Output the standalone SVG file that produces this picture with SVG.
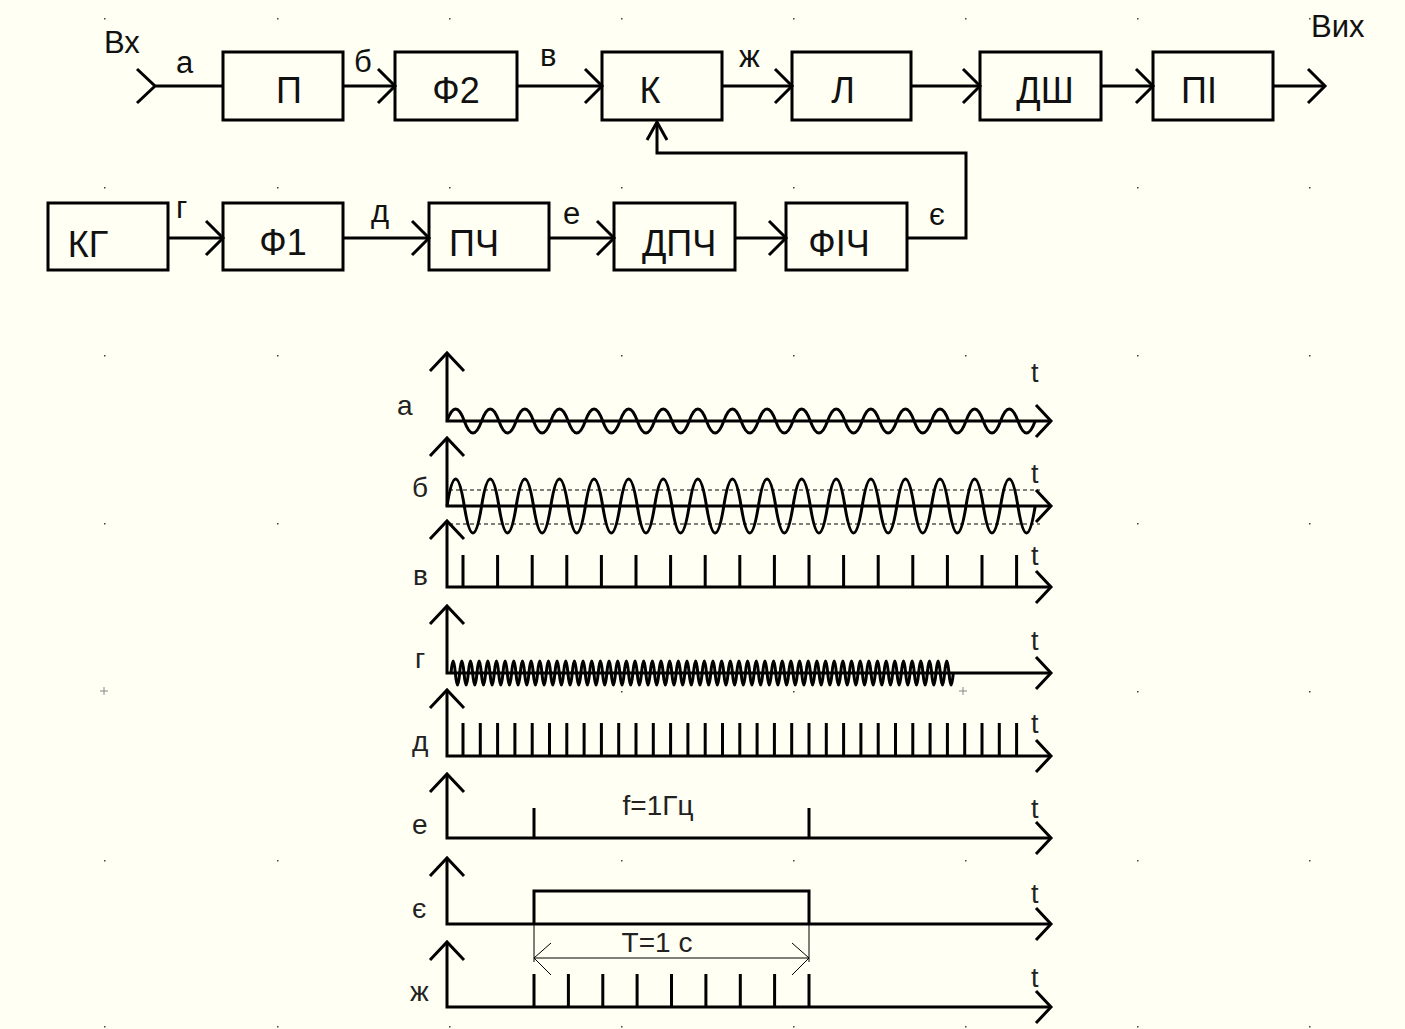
<svg xmlns="http://www.w3.org/2000/svg" width="1405" height="1029" viewBox="0 0 1405 1029">
<style>
text{font-family:"Liberation Sans",Arial,sans-serif;fill:#111}
.box{fill:none;stroke:#000;stroke-width:3}
.bt{font-size:36px;text-anchor:middle}
.lb{font-size:31px}
.ln{fill:none;stroke:#000;stroke-width:3;stroke-linejoin:miter}
.th{fill:none;stroke:#000;stroke-width:1}
.wl{font-size:28px;fill:#222}
.tl{font-size:27px;fill:#222}
.dot{fill:#444}
</style>
<defs>
<path id="ah" d="M-17,-17 L0,0 L-17,17" fill="none" stroke="#000" stroke-width="3"/>
<path id="au" d="M-17,18 L0,0 L17,18" fill="none" stroke="#000" stroke-width="3"/>
<path id="ax" d="M-15,-16 L0,0 L-15,16" fill="none" stroke="#000" stroke-width="3"/>
</defs>
<rect width="1405" height="1029" fill="#FFFFF3"/>
<g id="grid">
<rect class="dot" x="104" y="18" width="1.5" height="1.5"/><rect class="dot" x="277" y="18" width="1.5" height="1.5"/><rect class="dot" x="449" y="18" width="1.5" height="1.5"/><rect class="dot" x="621" y="18" width="1.5" height="1.5"/><rect class="dot" x="793" y="18" width="1.5" height="1.5"/><rect class="dot" x="965" y="18" width="1.5" height="1.5"/><rect class="dot" x="1137" y="18" width="1.5" height="1.5"/><rect class="dot" x="1309" y="18" width="1.5" height="1.5"/>
<rect class="dot" x="104" y="187" width="1.5" height="1.5"/><rect class="dot" x="277" y="187" width="1.5" height="1.5"/><rect class="dot" x="449" y="187" width="1.5" height="1.5"/><rect class="dot" x="621" y="187" width="1.5" height="1.5"/><rect class="dot" x="793" y="187" width="1.5" height="1.5"/><rect class="dot" x="1137" y="187" width="1.5" height="1.5"/><rect class="dot" x="1309" y="187" width="1.5" height="1.5"/>
<rect class="dot" x="104" y="355" width="1.5" height="1.5"/><rect class="dot" x="277" y="355" width="1.5" height="1.5"/><rect class="dot" x="621" y="355" width="1.5" height="1.5"/><rect class="dot" x="793" y="355" width="1.5" height="1.5"/><rect class="dot" x="965" y="355" width="1.5" height="1.5"/><rect class="dot" x="1137" y="355" width="1.5" height="1.5"/><rect class="dot" x="1309" y="355" width="1.5" height="1.5"/>
<rect class="dot" x="104" y="523" width="1.5" height="1.5"/><rect class="dot" x="277" y="523" width="1.5" height="1.5"/><rect class="dot" x="1137" y="523" width="1.5" height="1.5"/><rect class="dot" x="1309" y="523" width="1.5" height="1.5"/>
<path d="M100,691h8M104,687v8M959,691h8M963,687v8" stroke="#888" stroke-width="1"/>
<rect class="dot" x="621" y="691" width="1.5" height="1.5"/><rect class="dot" x="793" y="691" width="1.5" height="1.5"/><rect class="dot" x="1137" y="691" width="1.5" height="1.5"/><rect class="dot" x="1309" y="691" width="1.5" height="1.5"/>
<rect class="dot" x="104" y="860" width="1.5" height="1.5"/><rect class="dot" x="277" y="860" width="1.5" height="1.5"/><rect class="dot" x="621" y="860" width="1.5" height="1.5"/><rect class="dot" x="793" y="860" width="1.5" height="1.5"/><rect class="dot" x="965" y="860" width="1.5" height="1.5"/><rect class="dot" x="1137" y="860" width="1.5" height="1.5"/><rect class="dot" x="1309" y="860" width="1.5" height="1.5"/>
<rect class="dot" x="104" y="1026" width="1.5" height="1.5"/><rect class="dot" x="277" y="1026" width="1.5" height="1.5"/><rect class="dot" x="449" y="1026" width="1.5" height="1.5"/><rect class="dot" x="621" y="1026" width="1.5" height="1.5"/><rect class="dot" x="793" y="1026" width="1.5" height="1.5"/><rect class="dot" x="965" y="1026" width="1.5" height="1.5"/><rect class="dot" x="1137" y="1026" width="1.5" height="1.5"/><rect class="dot" x="1309" y="1026" width="1.5" height="1.5"/>
</g>

<g id="node-P"><rect class="box" x="223" y="52" width="120" height="68"/><text class="bt" x="289" y="103">П</text></g>
<g id="node-F2"><rect class="box" x="395" y="52" width="122" height="68"/><text class="bt" x="456" y="103">Ф2</text></g>
<g id="node-K"><rect class="box" x="602" y="52" width="120" height="68"/><text class="bt" x="650" y="103">К</text></g>
<g id="node-L"><rect class="box" x="792" y="52" width="119" height="68"/><text class="bt" x="843" y="103">Л</text></g>
<g id="node-DSh"><rect class="box" x="980" y="52" width="121" height="68"/><text class="bt" x="1045" y="103">ДШ</text></g>
<g id="node-PI"><rect class="box" x="1153" y="52" width="120" height="68"/><text class="bt" x="1199" y="103">ПІ</text></g>

<g id="node-KG"><rect class="box" x="48" y="203" width="120" height="67"/><text class="bt" x="88" y="257">КГ</text></g>
<g id="node-F1"><rect class="box" x="223" y="203" width="120" height="67"/><text class="bt" x="283" y="255">Ф1</text></g>
<g id="node-PCh"><rect class="box" x="429" y="203" width="120" height="67"/><text class="bt" x="474" y="256">ПЧ</text></g>
<g id="node-DPCh"><rect class="box" x="614" y="203" width="121" height="67"/><text class="bt" x="679" y="256">ДПЧ</text></g>
<g id="node-FICh"><rect class="box" x="786" y="203" width="121" height="67"/><text class="bt" x="839" y="256">ФІЧ</text></g>

<g id="connectors">
<path class="ln" d="M137,69 L155,86 L137,103 M155,86 H223"/>
<path class="ln" d="M343,86 H395"/><use href="#ah" x="395" y="86"/>
<path class="ln" d="M517,86 H602"/><use href="#ah" x="602" y="86"/>
<path class="ln" d="M722,86 H792"/><use href="#ah" x="792" y="86"/>
<path class="ln" d="M911,86 H980"/><use href="#ah" x="980" y="86"/>
<path class="ln" d="M1101,86 H1153"/><use href="#ah" x="1153" y="86"/>
<path class="ln" d="M1273,86 H1325"/><use href="#ah" x="1325" y="86"/>
<path class="ln" d="M168,238 H223"/><use href="#ah" x="223" y="238"/>
<path class="ln" d="M343,238 H429"/><use href="#ah" x="429" y="238"/>
<path class="ln" d="M549,238 H614"/><use href="#ah" x="614" y="238"/>
<path class="ln" d="M735,238 H786"/><use href="#ah" x="786" y="238"/>
<path class="ln" d="M907,238 H966 V153 H657 V122"/>
<path class="ln" d="M647,140 L657,122 L667,140"/>
</g>
<g id="labels">
<text class="lb" x="104" y="53" font-size="32">Вх</text>
<text class="lb" x="1311" y="37" font-size="32">Вих</text>
<text class="lb" x="176" y="73">а</text>
<text class="lb" x="354" y="72">б</text>
<text class="lb" x="540" y="66">в</text>
<text class="lb" x="739" y="67">ж</text>
<text class="lb" x="176" y="218">г</text>
<text class="lb" x="371" y="222">д</text>
<text class="lb" x="563" y="224">е</text>
<text class="lb" x="929" y="225">є</text>
</g>

<g id="waveforms">
<g id="axes">
<path class="ln" d="M447,353 V421 H1051 M447,438 V506 H1051 M447,521 V587 H1051 M447,606 V673 H1051 M447,690 V756 H1051 M447,774 V838 H1051 M447,858 V924 H1051 M447,942 V1007 H1051"/>
<use href="#au" x="447" y="353"/><use href="#au" x="447" y="438"/><use href="#au" x="447" y="521"/><use href="#au" x="447" y="606"/><use href="#au" x="447" y="690"/><use href="#au" x="447" y="774"/><use href="#au" x="447" y="858"/><use href="#au" x="447" y="942"/>
<use href="#ax" x="1051" y="421"/><use href="#ax" x="1051" y="506"/><use href="#ax" x="1051" y="587"/><use href="#ax" x="1051" y="673"/><use href="#ax" x="1051" y="756"/><use href="#ax" x="1051" y="838"/><use href="#ax" x="1051" y="924"/><use href="#ax" x="1051" y="1007"/>
</g>
<g id="wave-a"><path class="ln" d="M447,421 q8.65,-24 17.3,0 q8.65,24 17.3,0 q8.65,-24 17.3,0 q8.65,24 17.3,0 q8.65,-24 17.3,0 q8.65,24 17.3,0 q8.65,-24 17.3,0 q8.65,24 17.3,0 q8.65,-24 17.3,0 q8.65,24 17.3,0 q8.65,-24 17.3,0 q8.65,24 17.3,0 q8.65,-24 17.3,0 q8.65,24 17.3,0 q8.65,-24 17.3,0 q8.65,24 17.3,0 q8.65,-24 17.3,0 q8.65,24 17.3,0 q8.65,-24 17.3,0 q8.65,24 17.3,0 q8.65,-24 17.3,0 q8.65,24 17.3,0 q8.65,-24 17.3,0 q8.65,24 17.3,0 q8.65,-24 17.3,0 q8.65,24 17.3,0 q8.65,-24 17.3,0 q8.65,24 17.3,0 q8.65,-24 17.3,0 q8.65,24 17.3,0 q8.65,-24 17.3,0 q8.65,24 17.3,0 q8.65,-24 17.3,0 q8.65,24 17.3,0" stroke-width="2.5"/></g>
<g id="wave-b">
<path d="M449,490 H1040 M449,524 H1040" stroke="#000" stroke-width="1" stroke-dasharray="4,3" fill="none"/>
<path class="ln" d="M447,506 q8.65,-54 17.3,0 q8.65,54 17.3,0 q8.65,-54 17.3,0 q8.65,54 17.3,0 q8.65,-54 17.3,0 q8.65,54 17.3,0 q8.65,-54 17.3,0 q8.65,54 17.3,0 q8.65,-54 17.3,0 q8.65,54 17.3,0 q8.65,-54 17.3,0 q8.65,54 17.3,0 q8.65,-54 17.3,0 q8.65,54 17.3,0 q8.65,-54 17.3,0 q8.65,54 17.3,0 q8.65,-54 17.3,0 q8.65,54 17.3,0 q8.65,-54 17.3,0 q8.65,54 17.3,0 q8.65,-54 17.3,0 q8.65,54 17.3,0 q8.65,-54 17.3,0 q8.65,54 17.3,0 q8.65,-54 17.3,0 q8.65,54 17.3,0 q8.65,-54 17.3,0 q8.65,54 17.3,0 q8.65,-54 17.3,0 q8.65,54 17.3,0 q8.65,-54 17.3,0 q8.65,54 17.3,0 q8.65,-54 17.3,0 q8.65,54 17.3,0" stroke-width="2.5"/>
</g>
<g id="wave-v"><path class="ln" d="M463,587 v-32 M497.6,587 v-32 M532.2,587 v-32 M566.8,587 v-32 M601.4,587 v-32 M636,587 v-32 M670.6,587 v-32 M705.2,587 v-32 M739.8,587 v-32 M774.4,587 v-32 M809,587 v-32 M843.6,587 v-32 M878.2,587 v-32 M912.8,587 v-32 M947.4,587 v-32 M982,587 v-32 M1016.6,587 v-32"/></g>
<g id="wave-g"><path class="ln" stroke-width="2.5" d="M451,673 q2.16,-24 4.33,0 q2.16,24 4.33,0 q2.16,-24 4.33,0 q2.16,24 4.33,0 q2.16,-24 4.33,0 q2.16,24 4.33,0 q2.16,-24 4.33,0 q2.16,24 4.33,0 q2.16,-24 4.33,0 q2.16,24 4.33,0 q2.16,-24 4.33,0 q2.16,24 4.33,0 q2.16,-24 4.33,0 q2.16,24 4.33,0 q2.16,-24 4.33,0 q2.16,24 4.33,0 q2.16,-24 4.33,0 q2.16,24 4.33,0 q2.16,-24 4.33,0 q2.16,24 4.33,0 q2.16,-24 4.33,0 q2.16,24 4.33,0 q2.16,-24 4.33,0 q2.16,24 4.33,0 q2.16,-24 4.33,0 q2.16,24 4.33,0 q2.16,-24 4.33,0 q2.16,24 4.33,0 q2.16,-24 4.33,0 q2.16,24 4.33,0 q2.16,-24 4.33,0 q2.16,24 4.33,0 q2.16,-24 4.33,0 q2.16,24 4.33,0 q2.16,-24 4.33,0 q2.16,24 4.33,0 q2.16,-24 4.33,0 q2.16,24 4.33,0 q2.16,-24 4.33,0 q2.16,24 4.33,0 q2.16,-24 4.33,0 q2.16,24 4.33,0 q2.16,-24 4.33,0 q2.16,24 4.33,0 q2.16,-24 4.33,0 q2.16,24 4.33,0 q2.16,-24 4.33,0 q2.16,24 4.33,0 q2.16,-24 4.33,0 q2.16,24 4.33,0 q2.16,-24 4.33,0 q2.16,24 4.33,0 q2.16,-24 4.33,0 q2.16,24 4.33,0 q2.16,-24 4.33,0 q2.16,24 4.33,0 q2.16,-24 4.33,0 q2.16,24 4.33,0 q2.16,-24 4.33,0 q2.16,24 4.33,0 q2.16,-24 4.33,0 q2.16,24 4.33,0 q2.16,-24 4.33,0 q2.16,24 4.33,0 q2.16,-24 4.33,0 q2.16,24 4.33,0 q2.16,-24 4.33,0 q2.16,24 4.33,0 q2.16,-24 4.33,0 q2.16,24 4.33,0 q2.16,-24 4.33,0 q2.16,24 4.33,0 q2.16,-24 4.33,0 q2.16,24 4.33,0 q2.16,-24 4.33,0 q2.16,24 4.33,0 q2.16,-24 4.33,0 q2.16,24 4.33,0 q2.16,-24 4.33,0 q2.16,24 4.33,0 q2.16,-24 4.33,0 q2.16,24 4.33,0 q2.16,-24 4.33,0 q2.16,24 4.33,0 q2.16,-24 4.33,0 q2.16,24 4.33,0 q2.16,-24 4.33,0 q2.16,24 4.33,0 q2.16,-24 4.33,0 q2.16,24 4.33,0 q2.16,-24 4.33,0 q2.16,24 4.33,0 q2.16,-24 4.33,0 q2.16,24 4.33,0 q2.16,-24 4.33,0 q2.16,24 4.33,0 q2.16,-24 4.33,0 q2.16,24 4.33,0 q2.16,-24 4.33,0 q2.16,24 4.33,0 q2.16,-24 4.33,0 q2.16,24 4.33,0 q2.16,-24 4.33,0 q2.16,24 4.33,0 q2.16,-24 4.33,0 q2.16,24 4.33,0 q2.16,-24 4.33,0 q2.16,24 4.33,0 q2.16,-24 4.33,0 q2.16,24 4.33,0 q2.16,-24 4.33,0 q2.16,24 4.33,0 q2.16,-24 4.33,0 q2.16,24 4.33,0 q2.16,-24 4.33,0 q2.16,24 4.33,0"/></g>
<g id="wave-d"><path class="ln" d="M463,756 v-33 M480.3,756 v-33 M497.6,756 v-33 M514.9,756 v-33 M532.2,756 v-33 M549.5,756 v-33 M566.8,756 v-33 M584.1,756 v-33 M601.4,756 v-33 M618.7,756 v-33 M636,756 v-33 M653.3,756 v-33 M670.6,756 v-33 M687.9,756 v-33 M705.2,756 v-33 M722.5,756 v-33 M739.8,756 v-33 M757.1,756 v-33 M774.4,756 v-33 M791.7,756 v-33 M809,756 v-33 M826.3,756 v-33 M843.6,756 v-33 M860.9,756 v-33 M878.2,756 v-33 M895.5,756 v-33 M912.8,756 v-33 M930.1,756 v-33 M947.4,756 v-33 M964.7,756 v-33 M982,756 v-33 M999.3,756 v-33 M1016.6,756 v-33"/></g>
<g id="wave-e"><path class="ln" d="M534,838 v-30 M809,838 v-30"/><text class="wl" x="658" y="815" text-anchor="middle" font-size="29">f=1Гц</text></g>
<g id="wave-ye"><path class="ln" d="M534,924 V891 H809 V924"/>
<path class="th" d="M534,924 V962 M809,924 V962 M534,958 H809 M551,943 L534,958 L551,975 M792,943 L809,958 L792,975"/>
<text class="wl" x="657" y="952" text-anchor="middle" font-size="29">Т=1 с</text></g>
<g id="wave-zh"><path class="ln" d="M534,1007 v-33 M568.4,1007 v-33 M602.8,1007 v-33 M637.1,1007 v-33 M671.5,1007 v-33 M705.9,1007 v-33 M740.3,1007 v-33 M774.6,1007 v-33 M809,1007 v-33"/></g>
<g id="wave-labels">
<text class="wl" x="397" y="415">а</text>
<text class="wl" x="412" y="497">б</text>
<text class="wl" x="413" y="585">в</text>
<text class="wl" x="415" y="668">г</text>
<text class="wl" x="412" y="751">д</text>
<text class="wl" x="412" y="834">е</text>
<text class="wl" x="412" y="918">є</text>
<text class="wl" x="410" y="1001">ж</text>
<text class="tl" x="1031" y="382">t</text>
<text class="tl" x="1031" y="483">t</text>
<text class="tl" x="1031" y="565">t</text>
<text class="tl" x="1031" y="650">t</text>
<text class="tl" x="1031" y="733">t</text>
<text class="tl" x="1031" y="818">t</text>
<text class="tl" x="1031" y="903">t</text>
<text class="tl" x="1031" y="987">t</text>
</g>
</g>
</svg>
